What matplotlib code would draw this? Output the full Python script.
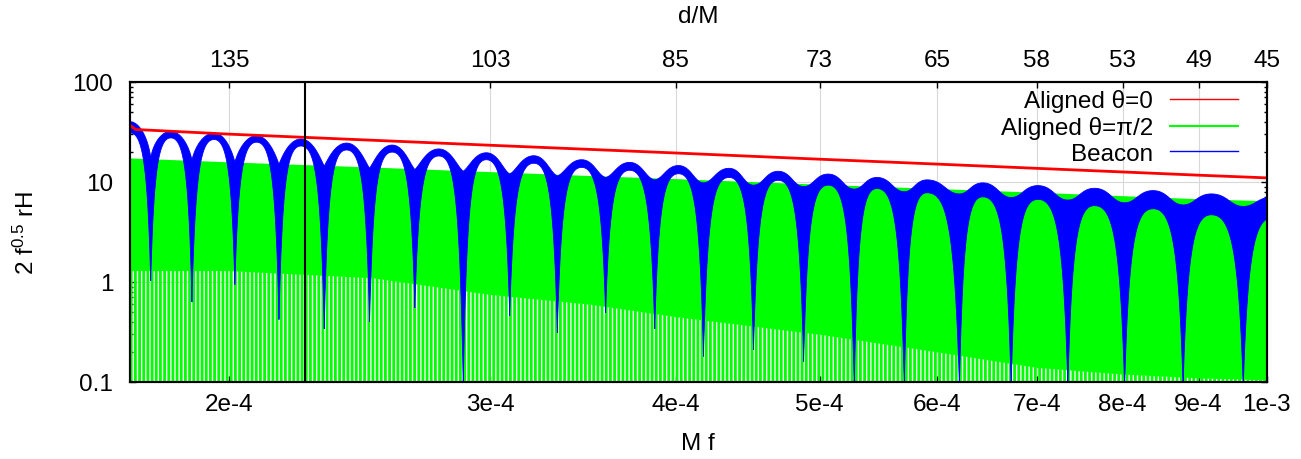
import numpy as np
import matplotlib
matplotlib.use("Agg")
import matplotlib.pyplot as plt
from matplotlib.path import Path
from matplotlib.transforms import Affine2D
from matplotlib.lines import Line2D

plt.rcParams["font.family"] = ["Liberation Sans", "DejaVu Sans"]
plt.rcParams["mathtext.fontset"] = "custom"
plt.rcParams["mathtext.rm"] = "Liberation Sans"
plt.rcParams["mathtext.it"] = "Liberation Sans:italic"
plt.rcParams["hatch.linewidth"] = 2.0
plt.rcParams["hatch.color"] = "#00ff00"

# ==============================
# values
# ==============================
x_lim = (1.715e-4, 1.0e-3)
y_lim = (0.1, 100)
x_ticks = [2e-4, 3e-4, 4e-4, 5e-4, 6e-4, 7e-4, 8e-4, 9e-4, 1e-3]
x_labels = ["2e-4", "3e-4", "4e-4", "5e-4", "6e-4", "7e-4", "8e-4", "9e-4", "1e-3"]
dm_labels = ["135", "103", "85", "73", "65", "58", "53", "49", "45"]
y_ticks = [0.1, 1, 10, 100]
y_labels = ["0.1", "1", "10", "100"]
marker_f = 2.251e-4

# Aligned theta=0 (red line)
red_f = [1.715e-4, 1.73e-4, 2e-4, 3e-4, 4e-4, 5e-4, 6e-4, 7e-4, 8e-4, 9e-4, 1e-3]
red_v = [37.0, 33.5, 30.1, 23.3, 19.5, 16.9, 15.1, 13.7, 12.6, 11.7, 11.0]

# Aligned theta=pi/2 (dense green oscillation): top envelope and the level
# below which the fill gets streaky
green_f = [1.715e-4, 2e-4, 2.5e-4, 3e-4, 3.5e-4, 4e-4, 5e-4, 6e-4, 7e-4, 8e-4, 9e-4, 1e-3]
green_top = [17.4, 15.9, 14.1, 12.7, 11.6, 10.8, 9.5, 8.6, 7.9, 7.3, 6.8, 6.5]
green_solid = [1.3, 1.3, 1.1, 0.75, 0.6, 0.45, 0.3, 0.2, 0.14, 0.12, 0.11, 0.105]

# Beacon (blue): lobe peaks (upper / inner envelope) and nodes between them
peak_f = [1.715e-4, 1.827e-4, 1.954e-4, 2.087e-4, 2.236e-4, 2.400e-4, 2.576e-4,
          2.769e-4, 2.981e-4, 3.209e-4, 3.456e-4, 3.723e-4, 4.016e-4, 4.344e-4,
          4.688e-4, 5.066e-4, 5.464e-4, 5.906e-4, 6.439e-4, 7.014e-4, 7.658e-4,
          8.386e-4, 9.180e-4, 1.010e-3]
peak_hi = [40.0, 32.1, 30.9, 29.0, 26.9, 24.5, 23.4, 21.4, 19.6, 18.3, 16.7, 15.7,
           14.6, 13.7, 12.8, 12.0, 11.1, 10.5, 9.8, 9.2, 8.65, 8.2, 7.6, 7.1]
peak_lo = [31.0, 27.6, 26.6, 25.0, 22.9, 20.9, 19.9, 18.2, 16.7, 15.4, 14.0, 13.1,
           12.1, 11.1, 10.4, 9.3, 8.6, 7.8, 7.1, 6.7, 5.8, 5.4, 4.7, 4.4]
node_f = [1.771e-4, 1.888e-4, 2.018e-4, 2.161e-4, 2.318e-4, 2.487e-4, 2.668e-4,
          2.876e-4, 3.091e-4, 3.328e-4, 3.587e-4, 3.871e-4, 4.175e-4, 4.512e-4,
          4.877e-4, 5.275e-4, 5.701e-4, 6.210e-4, 6.729e-4, 7.348e-4, 8.024e-4,
          8.786e-4, 9.646e-4]
node_hi = [17.3, 16.5, 15.8, 15.0, 14.4, 13.7, 13.3, 12.8, 12.0, 11.5, 11.1, 10.5,
           9.8, 9.3, 9.0, 8.5, 8.0, 7.6, 7.0, 6.6, 6.2, 5.9, 5.7]
node_lo = [1.03, 0.63, 0.94, 0.42, 0.34, 0.40, 0.55, 0.09, 0.46, 0.31, 0.49, 0.34,
           0.18, 0.21, 0.16, 0.09, 0.09, 0.09, 0.09, 0.09, 0.09, 0.09, 0.09]

RED, GREEN, BLUE = "#ff0000", "#00ff00", "#0000ff"


# ==============================
# beat envelope of the beacon signal as one bezier outline
# ==============================
def beacon_outline(pf, phi, plo, nf, nhi, nlo):
    """Outline between the upper arches and the inner arches / node spikes.
    The bezier path is built in log10 space and flattened there, so the
    shape is the same on the log-log axes."""
    px, pu, pl = np.log10(pf), np.log10(phi), np.log10(plo)
    nx, nu, nl = np.log10(nf), np.log10(nhi), np.log10(nlo)
    verts = [(px[0], pu[0])]
    codes = [Path.MOVETO]
    n = len(nx)
    # upper arches, left to right
    for i in range(n):
        s = max(0.0, 1 - i / 13)  # sharp cusps on the left, rounded valleys on the right
        bx, by = 0.1 * s + 0.4 * (1 - s), 0.5 * s
        dx, dy = nx[i] - px[i], pu[i] - nu[i]
        verts += [(px[i] + 0.5 * dx, pu[i]), (nx[i] - bx * dx, nu[i] + by * dy), (nx[i], nu[i])]
        dx, dy = px[i + 1] - nx[i], pu[i + 1] - nu[i]
        verts += [(nx[i] + bx * dx, nu[i] + by * dy), (px[i + 1] - 0.5 * dx, pu[i + 1]),
                  (px[i + 1], pu[i + 1])]
        codes += [Path.CURVE4] * 6
    verts.append((px[-1], pl[-1]))
    codes.append(Path.LINETO)
    # inner arches with the spikes at the nodes, right to left
    for i in range(n - 1, -1, -1):
        dx = px[i + 1] - nx[i]
        verts += [(px[i + 1] - 0.6 * dx, pl[i + 1]), (px[i + 1] - 0.85 * dx, pl[i + 1] - 0.3),
                  (nx[i], nl[i])]
        dx = nx[i] - px[i]
        verts += [(px[i] + 0.85 * dx, pl[i] - 0.3), (px[i] + 0.6 * dx, pl[i]), (px[i], pl[i])]
        codes += [Path.CURVE4] * 6
    verts.append(verts[0])
    codes.append(Path.CLOSEPOLY)
    scale = 20000.0  # flatten at a fine resolution
    poly = Path(verts, codes).to_polygons(transform=Affine2D().scale(scale))[0] / scale
    return 10 ** poly[:, 0], 10 ** poly[:, 1]


fig = plt.figure(figsize=(13.01, 4.6), dpi=100)
ax = fig.add_axes([130 / 1301, 77 / 460, 1136.5 / 1301, 300 / 460])
ax.set_xscale("log")
ax.set_yscale("log")

# green: solid part + streaky part near the bottom
ax.fill_between(green_f, green_solid, green_top, color=GREEN, lw=0, zorder=2)
ax.fill_between(green_f, 0.09, green_solid, facecolor="none", edgecolor=GREEN,
                hatch="||||", lw=0, zorder=2)

# blue beacon
bx_, by_ = beacon_outline(peak_f, peak_hi, peak_lo, node_f, node_hi, node_lo)
ax.fill(bx_, by_, facecolor=BLUE, edgecolor=BLUE, lw=0.6, zorder=3)

# red aligned theta=0
ax.plot(red_f, red_v, color=RED, lw=2, zorder=4)

ax.axvline(marker_f, color="black", lw=1.5, zorder=5)

ax.set_xlim(*x_lim)
ax.set_ylim(*y_lim)
ax.set_xticks(x_ticks)
ax.set_xticklabels(x_labels)
ax.xaxis.set_minor_locator(matplotlib.ticker.NullLocator())
ax.set_yticks(y_ticks)
ax.set_yticklabels(y_labels)
ax.grid(True, which="major", color="#d8d8d8", lw=0.8, zorder=0)
ax.set_axisbelow(True)
ax.tick_params(which="both", direction="in", right=True, labelsize=17.5, width=1, color="black")
ax.tick_params(axis="x", which="major", length=4, pad=8)
ax.tick_params(axis="y", which="major", length=4, pad=12)
ax.tick_params(axis="y", which="minor", length=2.5)
for sp in ax.spines.values():
    sp.set_linewidth(1.5)

ax.set_xlabel("M f", fontsize=17.5, labelpad=12)
ax.set_ylabel(r"2 f$^{0.5}$ rH", fontsize=17.5)
ax.yaxis.set_label_coords(-0.08, 0.5)

# top axis: separation d/M at the same frequencies
ax2 = ax.twiny()
ax2.set_xscale("log")
ax2.set_xlim(*x_lim)
ax2.set_xticks(x_ticks)
ax2.set_xticklabels(dm_labels)
ax2.xaxis.set_minor_locator(matplotlib.ticker.NullLocator())
ax2.tick_params(direction="in", length=4, width=1, pad=8, labelsize=17.5)
ax2.set_xlabel("d/M", fontsize=17.5, labelpad=19)
for sp in ax2.spines.values():
    sp.set_linewidth(1.5)

handles = [Line2D([], [], color=RED, lw=1),
           Line2D([], [], color=GREEN, lw=1.5),
           Line2D([], [], color=BLUE, lw=1)]
labels = ["Aligned \u03b8=0", "Aligned \u03b8=\u03c0/2", "Beacon"]
ax2.legend(handles, labels, loc="upper right", bbox_to_anchor=(0.975, 0.975),
           frameon=False, markerfirst=False, fontsize=17.5, handlelength=2.8,
           handletextpad=0.7, labelspacing=0.15, borderpad=0, borderaxespad=0)

fig.savefig("out.png", dpi=100)
